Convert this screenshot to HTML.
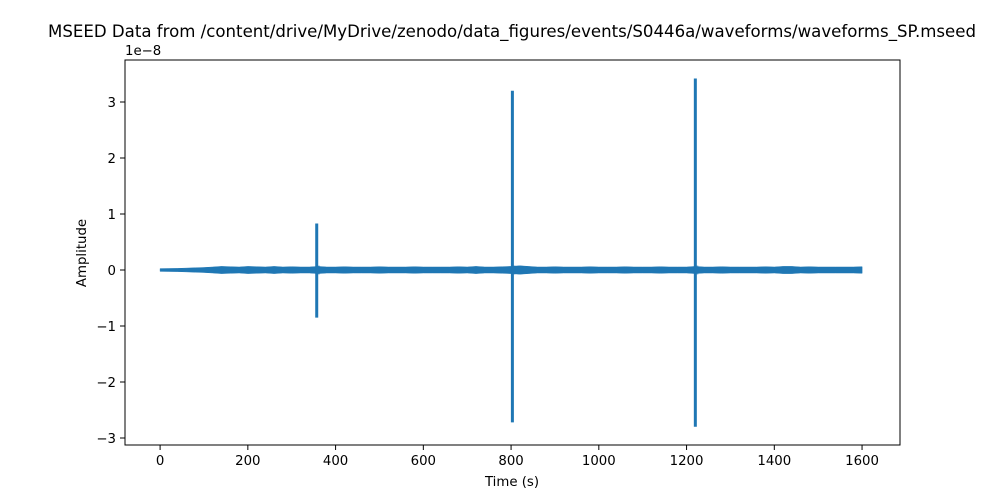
<!DOCTYPE html>
<html><head><meta charset="utf-8">
<style>
html,body{margin:0;padding:0;background:#fff;}
svg{display:block;font-family:"DejaVu Sans","Liberation Sans",sans-serif;}
</style></head>
<body>
<svg id="chart" width="1000" height="500" viewBox="0 0 1000 500">
<rect width="1000" height="500" fill="#fff"/>
<text x="512" y="37" font-size="16.6" text-anchor="middle">MSEED Data from /content/drive/MyDrive/zenodo/data_figures/events/S0446a/waveforms/waveforms_SP.mseed</text>
<g id="plot"></g>
<g id="axes"></g>
<rect x="125" y="60" width="775" height="385" fill="none" stroke="#000" stroke-width="1"/>
<text x="512" y="486" font-size="13.3" text-anchor="middle">Time (s)</text>
<text transform="translate(86,253) rotate(-90)" font-size="13.3" text-anchor="middle">Amplitude</text>
<text x="125" y="55" font-size="13.3">1e−8</text>
</svg>
<script>
const xTicks=[0,200,400,600,800,1000,1200,1400,1600];
const yTicks=[-3,-2,-1,0,1,2,3];
const yTickLabels=["−3","−2","−1","0","1","2","3"];
const noiseStep=20;
const noiseAmp=[0.01,0.012,0.015,0.02,0.025,0.03,0.04,0.05,0.045,0.04,0.05,0.045,0.04,0.05,0.04,0.045,0.04,0.04,0.05,0.04,0.04,0.045,0.04,0.04,0.04,0.045,0.04,0.04,0.04,0.045,0.04,0.04,0.04,0.04,0.045,0.04,0.05,0.04,0.04,0.045,0.05,0.06,0.05,0.04,0.04,0.045,0.04,0.04,0.04,0.045,0.04,0.04,0.04,0.045,0.04,0.04,0.04,0.045,0.04,0.04,0.04,0.05,0.04,0.04,0.045,0.04,0.04,0.04,0.04,0.045,0.04,0.05,0.05,0.04,0.045,0.04,0.04,0.04,0.04,0.04,0.045];
const spikeTimes=[357,803,1220];
const spikeHigh=[0.83,3.2,3.42];
const spikeLow=[-0.85,-2.72,-2.8];
const NS="http://www.w3.org/2000/svg";
const X=t=>125+(t+80)*(775/1766.5);
const Y=v=>445-(v+3.125)*(385/6.875);
const plot=document.getElementById('plot'),axes=document.getElementById('axes');
function el(n,a,p){const e=document.createElementNS(NS,n);for(const k in a)e.setAttribute(k,a[k]);p.appendChild(e);return e;}
let up=[],lo=[];
noiseAmp.forEach((a,i)=>{const t=i*noiseStep;const px=X(Math.min(t,1605));up.push(px.toFixed(1)+','+(Y(a)-0.8).toFixed(1));lo.unshift(px.toFixed(1)+','+(Y(-a)+0.8).toFixed(1));});
const band=el('polygon',{points:up.concat(lo).join(' '),fill:'#1f77b4',stroke:'#1f77b4','stroke-width':0.5},plot);


spikeTimes.forEach((t,i)=>{
 const l=el('line',{x1:X(t),x2:X(t),y1:Y(spikeHigh[i]),y2:Y(spikeLow[i]),stroke:'#1f77b4','stroke-width':3},plot);
 
 
 const r=el('line',{x1:X(t)-1,x2:X(t)+3,y1:Y(0),y2:Y(0),stroke:'#1f77b4','stroke-width':9,'stroke-opacity':0.5},plot);
 
 
});
xTicks.forEach(t=>{
 const tk=el('line',{x1:X(t),x2:X(t),y1:445,y2:450,stroke:'#000'},axes);
 
 
 const tx=el('text',{x:X(t),y:465,'font-size':13.3,'text-anchor':'middle'},axes);
 tx.textContent=t;
 
 
});
yTicks.forEach((v,i)=>{
 const tk=el('line',{x1:120,x2:125,y1:Y(v),y2:Y(v),stroke:'#000'},axes);
 
 
 const tx=el('text',{x:116,y:Y(v)+5,'font-size':13.3,'text-anchor':'end'},axes);
 tx.textContent=yTickLabels[i];
 
 
});
</script>
</body></html>
